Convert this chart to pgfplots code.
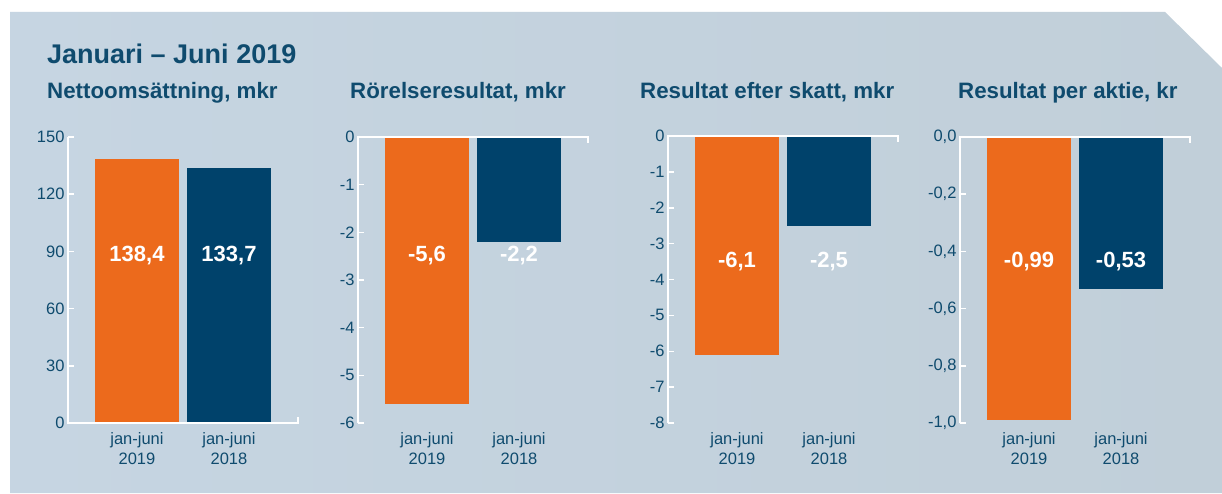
\documentclass[border=0pt]{standalone}
\usepackage{pgfplots}
\pgfplotsset{compat=1.18}
\usepackage{fontspec}
\setmainfont{Liberation Sans}
\definecolor{bgA}{HTML}{C6D5E2}
\definecolor{bgB}{HTML}{C1CFD9}
\definecolor{orng}{HTML}{EC6A1C}
\definecolor{navy}{HTML}{00426B}
\definecolor{txt}{HTML}{0F4B6E}
\pgfplotsset{
 kpi/.style={
  scale only axis, width=230pt, height=286pt, anchor=south west,
  clip=false,
  axis x line*=bottom, axis y line*=left, axis line style={draw=none},
  xmin=-0.75, xmax=1.75, xtick={0,1},
  xticklabels={jan-juni\\2019, jan-juni\\2018},
  xticklabel style={align=center, font=\fontsize{16.5}{20}\selectfont, text=txt},
  yticklabel style={font=\fontsize{16.5}{20}\selectfont, text=txt},
  xtick style={draw=none},
  ytick style={draw=white, line width=1.5pt},
  tick align=inside, major tick length=6pt,
  ybar, bar width=84pt,
 },
}
\tikzset{vlab/.style={font=\bfseries\fontsize{22}{24}\selectfont, text=white},
 sub/.style={anchor=base west, inner sep=0pt, text=txt, font=\bfseries\fontsize{22.3}{24}\selectfont}}
\begin{document}
\begin{tikzpicture}
\useasboundingbox (0,0) rectangle (1222pt,493pt);
\fill[white] (0,0) rectangle (1222pt,493pt);
\shade[left color=bgA, right color=bgB] (10pt,0pt) -- (10pt,481pt) -- (1165pt,481pt) -- (1222pt,425pt) -- (1222pt,0pt) -- cycle;
\node[anchor=base west, inner sep=0pt, text=txt, font=\bfseries\fontsize{27}{30}\selectfont] at (47pt,429pt) {Januari – Juni 2019};
\node[sub] at (47pt,394pt) {Nettoomsättning, mkr};
\node[sub] at (350pt,394pt) {Rörelseresultat, mkr};
\node[sub] at (640pt,394pt) {Resultat efter skatt, mkr};
\node[sub] at (958pt,394pt) {Resultat per aktie, kr};

% Chart 1
\begin{axis}[kpi, at={(68pt,70pt)}, ymin=0, ymax=150, ytick={0,30,60,90,120,150},
  yticklabels={0,30,60,90,120,150}]
\addplot[fill=orng, draw=none, bar shift=0pt] coordinates {(0,138.4)};
\addplot[fill=navy, draw=none, bar shift=0pt] coordinates {(1,133.7)};
\draw[white, line width=1.5pt] (rel axis cs:0,1) -- (rel axis cs:0,0) -- (rel axis cs:1,0) -- ++(0pt,6pt);
\node[vlab] at (axis cs:0,88.1) {138,4};
\node[vlab] at (axis cs:1,88.1) {133,7};
\end{axis}

% Chart 2
\begin{axis}[kpi, at={(358pt,70pt)}, ymin=-6, ymax=0, ytick={-6,-5,-4,-3,-2,-1,0},
  yticklabels={-6,-5,-4,-3,-2,-1,0}]
\addplot[fill=orng, draw=none, bar shift=0pt] coordinates {(0,-5.6)};
\addplot[fill=navy, draw=none, bar shift=0pt] coordinates {(1,-2.2)};
\draw[white, line width=1.5pt] (rel axis cs:0,0) -- (rel axis cs:0,1) -- (rel axis cs:1,1) -- ++(0pt,-6pt);
\node[vlab] at (axis cs:0,-2.48) {-5,6};
\node[vlab] at (axis cs:1,-2.48) {-2,2};
\end{axis}

% Chart 3
\begin{axis}[kpi, at={(668pt,70pt)}, height=287pt, ymin=-8, ymax=0, ytick={-8,-7,-6,-5,-4,-3,-2,-1,0},
  yticklabels={-8,-7,-6,-5,-4,-3,-2,-1,0}]
\addplot[fill=orng, draw=none, bar shift=0pt] coordinates {(0,-6.1)};
\addplot[fill=navy, draw=none, bar shift=0pt] coordinates {(1,-2.5)};
\draw[white, line width=1.5pt] (rel axis cs:0,0) -- (rel axis cs:0,1) -- (rel axis cs:1,1) -- ++(0pt,-6pt);
\node[vlab] at (axis cs:0,-3.51) {-6,1};
\node[vlab] at (axis cs:1,-3.51) {-2,5};
\end{axis}

% Chart 4
\begin{axis}[kpi, at={(960pt,70pt)}, ymin=-1, ymax=0, ytick={-1,-0.8,-0.6,-0.4,-0.2,0},
  yticklabels={{-1,0},{-0,8},{-0,6},{-0,4},{-0,2},{0,0}}]
\addplot[fill=orng, draw=none, bar shift=0pt] coordinates {(0,-0.99)};
\addplot[fill=navy, draw=none, bar shift=0pt] coordinates {(1,-0.53)};
\draw[white, line width=1.5pt] (rel axis cs:0,0) -- (rel axis cs:0,1) -- (rel axis cs:1,1) -- ++(0pt,-6pt);
\node[vlab] at (axis cs:0,-0.437) {-0,99};
\node[vlab] at (axis cs:1,-0.437) {-0,53};
\end{axis}
\end{tikzpicture}
\end{document}
